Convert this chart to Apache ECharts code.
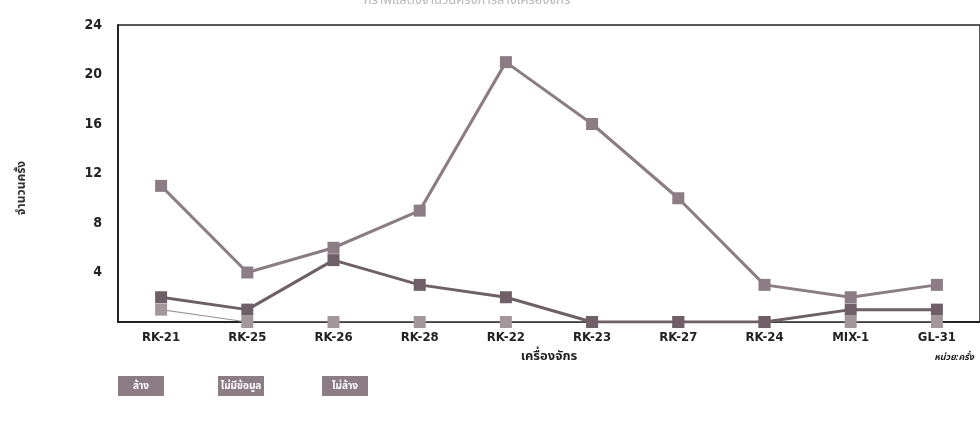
<!DOCTYPE html>
<html>
<head>
<meta charset="utf-8">
<script src="https://cdn.jsdelivr.net/npm/echarts@6/dist/echarts.min.js"></script>
<style>
  html, body { margin: 0; padding: 0; background: #ffffff; }
  #chart { width: 980px; height: 429px; }
</style>
</head>
<body>
<div id="chart"></div>
<script>
// Machines on the x axis
const machines = ['RK-21', 'RK-25', 'RK-26', 'RK-28', 'RK-22', 'RK-23', 'RK-27', 'RK-24', 'MIX-1', 'GL-31'];

// Counts per machine for each status
const washed    = [11, 4, 6, 9, 21, 16, 10, 3, 2, 3];  // ล้าง
const noData    = [2, 1, 5, 3, 2, 0, 0, 0, 1, 1];      // ไม่มีข้อมูล
const notWashed = [1, 0, 0, 0, 0, 0, 0, 0, 0, 0];      // ไม่ล้าง

const seriesNames = ['ล้าง', 'ไม่มีข้อมูล', 'ไม่ล้าง'];
const yTicks = [0, 4, 8, 12, 16, 20, 24];

const font = '"Liberation Sans Narrow", "DejaVu Sans Condensed", "Liberation Sans", Arial, sans-serif';
const thai = '"Noto Sans", "Noto Sans Thai", sans-serif';
const colA = '#8c7c84';
const colB = '#6f5f66';
const colC = '#a3979c';

const chart = echarts.init(document.getElementById('chart'), null, { renderer: 'canvas' });

// Status key drawn as small filled buttons under the chart
function button(x, label, color) {
  return {
    type: 'group',
    left: x,
    top: 376,
    children: [
      { type: 'rect', shape: { x: 0, y: 0, width: 46, height: 20 }, style: { fill: color } },
      { type: 'text', style: { x: 23, y: 10, text: label, fill: '#ffffff', font: 'bold 10px ' + thai, align: 'center', verticalAlign: 'middle' } }
    ]
  };
}

chart.setOption({
  animation: false,
  backgroundColor: '#ffffff',
  title: {
    text: 'กราฟแสดงจำนวนครั้งการล้างเครื่องจักร',
    left: 462,
    top: -11,
    textAlign: 'center',
    textStyle: { fontFamily: thai, fontSize: 13, fontWeight: 'normal', color: '#b8b8b8' }
  },
  grid: { left: 118, top: 25, width: 873, height: 297, show: true, borderColor: '#222', borderWidth: 1.5 },
  xAxis: {
    type: 'category',
    data: machines,
    boundaryGap: true,
    name: 'เครื่องจักร',
    nameLocation: 'middle',
    nameGap: 28,
    nameTextStyle: { fontFamily: thai, fontSize: 13, fontWeight: 'bold', color: '#222' },
    axisLine: { lineStyle: { color: '#111', width: 1.5 } },
    axisTick: { show: false },
    axisLabel: { margin: 9, fontFamily: font, fontSize: 13, fontWeight: 'bold', color: '#222' }
  },
  yAxis: {
    type: 'value',
    min: yTicks[0],
    max: yTicks[yTicks.length - 1],
    interval: 4,
    axisLine: { show: true, lineStyle: { color: '#111', width: 1.5 } },
    axisTick: { show: false },
    splitLine: { show: false },
    axisLabel: {
      margin: 16,
      fontFamily: font,
      fontSize: 14,
      fontWeight: 'bold',
      color: '#222',
      formatter: v => (v === 0 ? '' : String(v))
    }
  },
  series: [
    {
      name: seriesNames[0], type: 'line', data: washed,
      symbol: 'rect', symbolSize: 12,
      lineStyle: { color: colA, width: 3 }, itemStyle: { color: colA }, z: 3
    },
    {
      name: seriesNames[1], type: 'line', data: noData,
      symbol: 'rect', symbolSize: 12,
      lineStyle: { color: colB, width: 3 }, itemStyle: { color: colB }, z: 4
    },
    {
      name: seriesNames[2], type: 'line', data: notWashed,
      symbol: 'rect', symbolSize: 12,
      lineStyle: { color: colC, width: 1.2 }, itemStyle: { color: colC }, z: 2
    }
  ],
  graphic: [
    {
      type: 'text', x: 22, y: 188, rotation: Math.PI / 2,
      style: { text: 'จำนวนครั้ง', fill: '#333', font: 'bold 12px ' + thai, align: 'center', verticalAlign: 'middle' }
    },
    button(118, seriesNames[0], colA),
    button(218, seriesNames[1], colA),
    button(322, seriesNames[2], colA),
    {
      type: 'text', right: 6, top: 353,
      style: { text: 'หน่วย:ครั้ง', fill: '#222', font: 'italic bold 9px ' + thai }
    }
  ]
});
</script>
</body>
</html>
